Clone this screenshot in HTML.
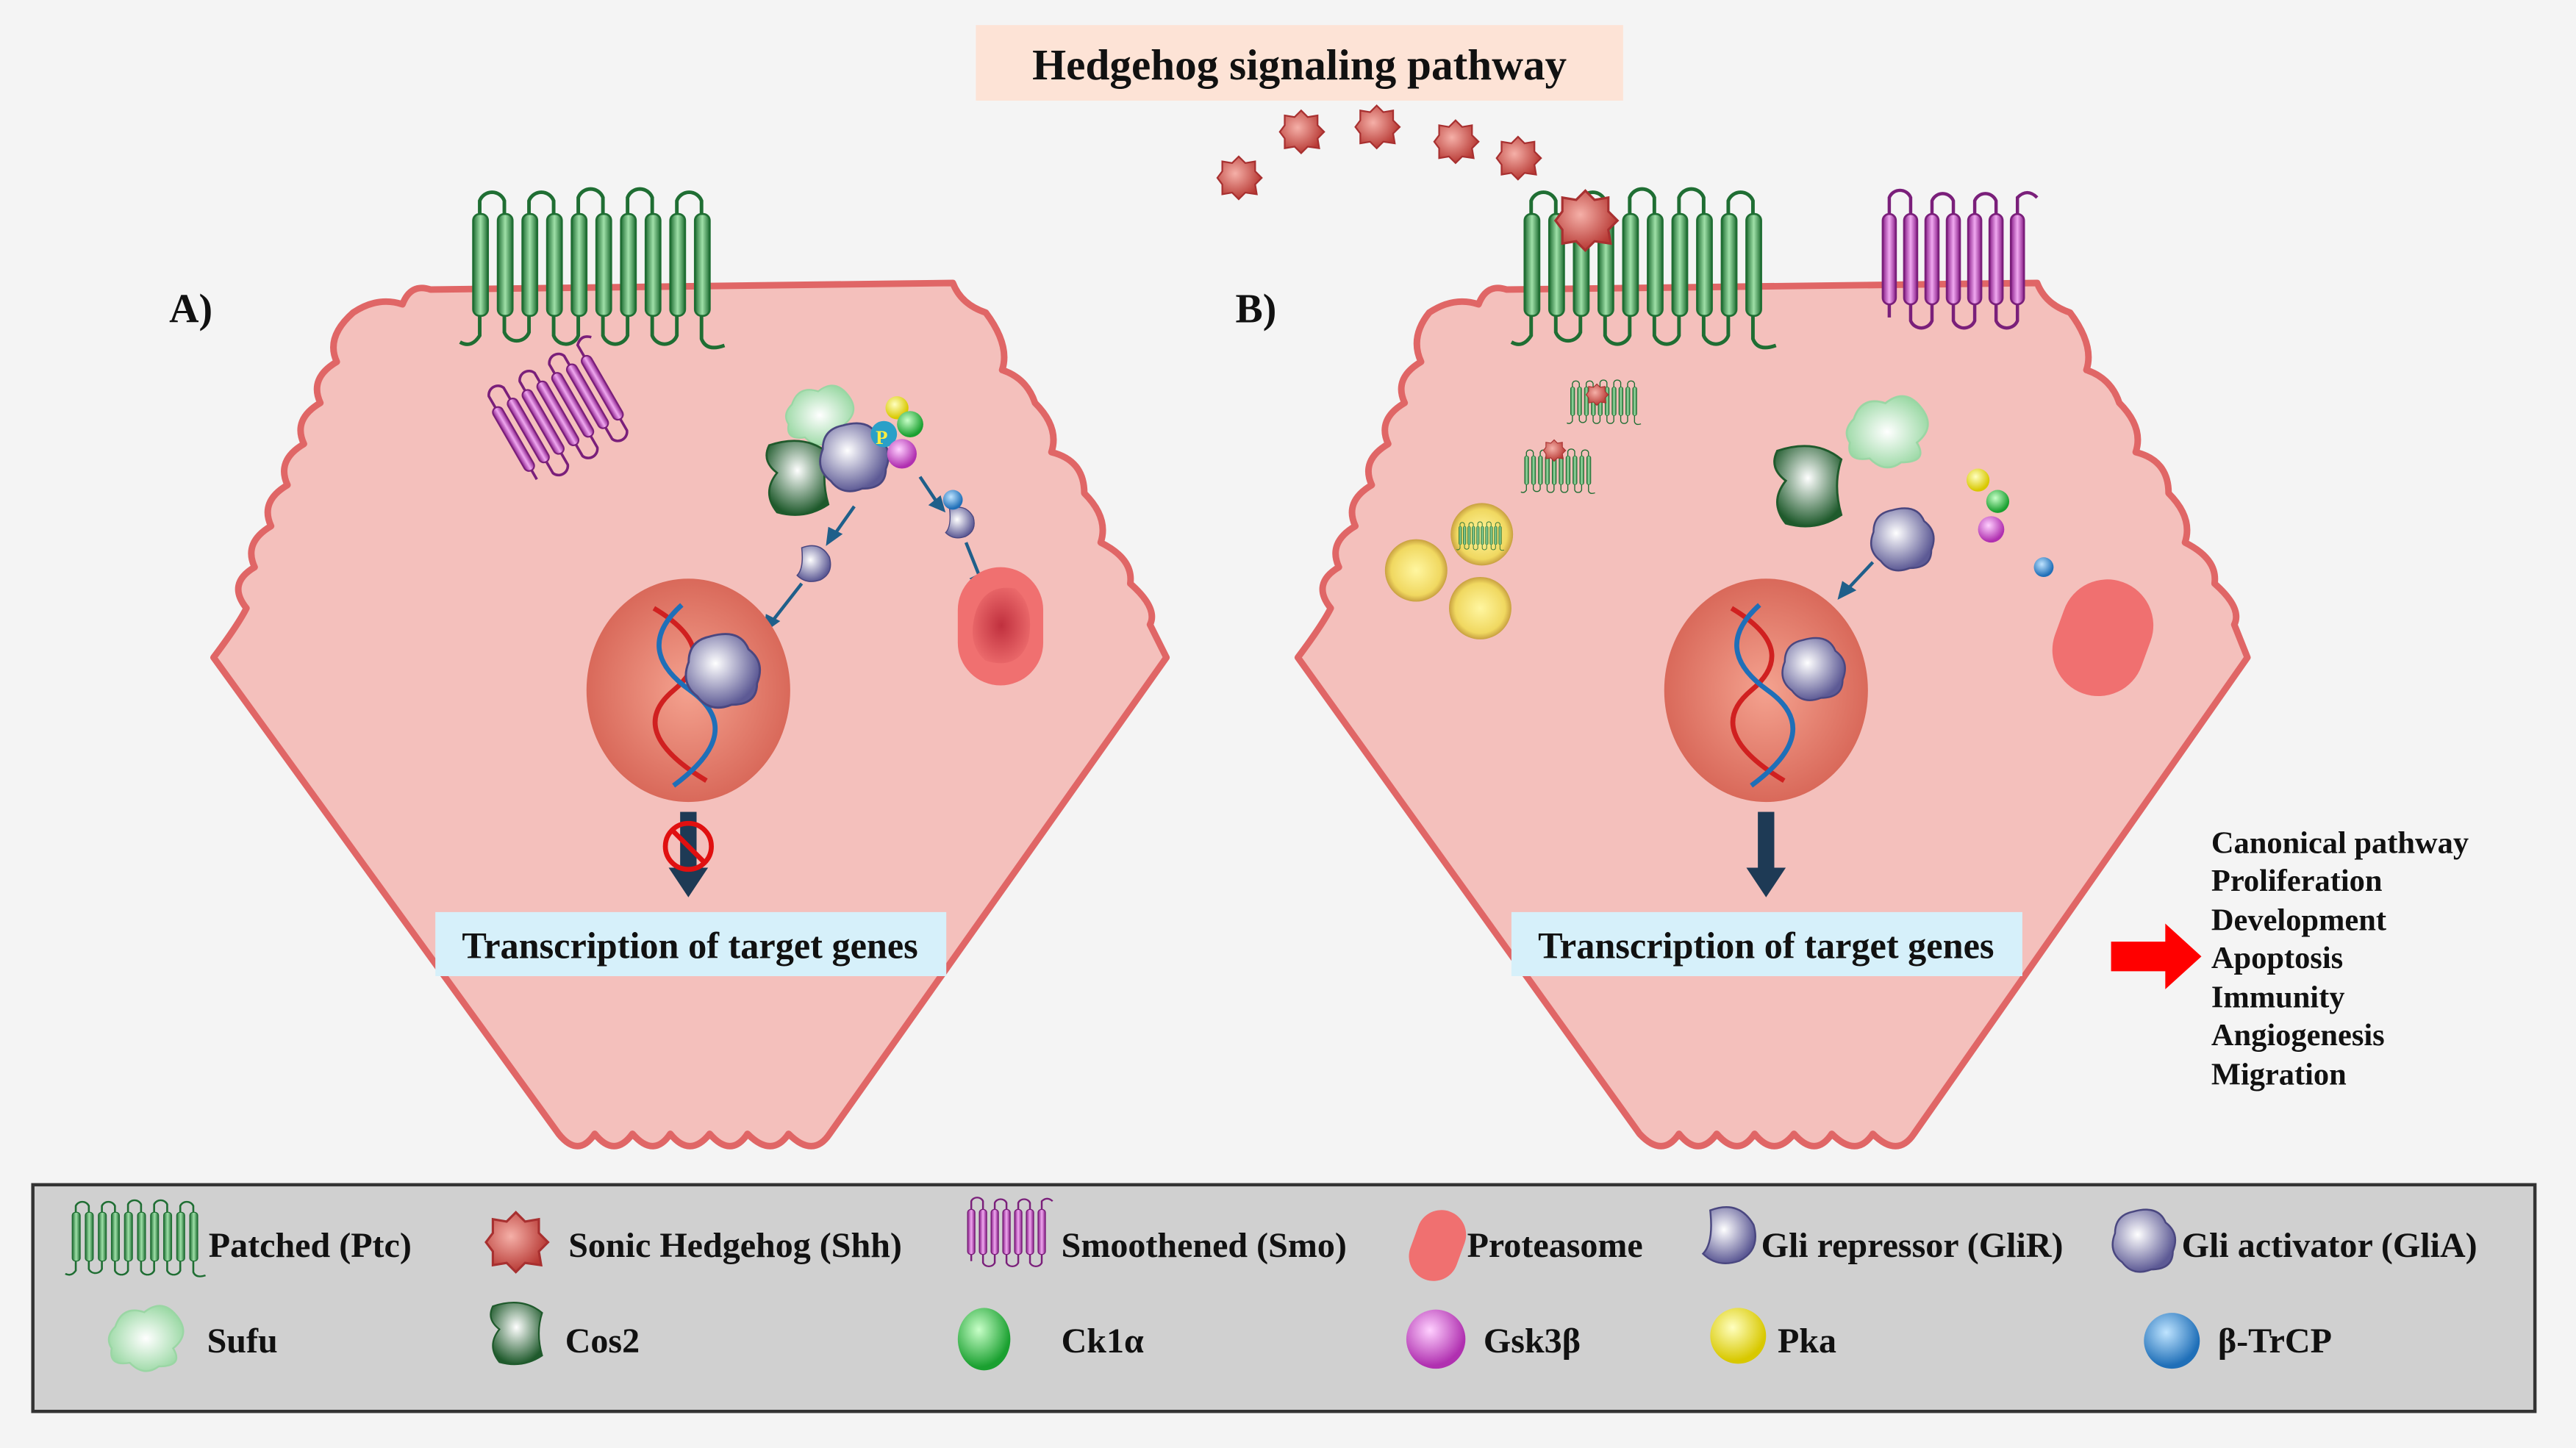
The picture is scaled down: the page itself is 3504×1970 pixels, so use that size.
<!DOCTYPE html>
<html><head><meta charset="utf-8">
<style>
html,body{margin:0;padding:0;background:#f4f4f4;}
svg{display:block;}
text{font-family:"Liberation Serif",serif;font-weight:bold;fill:#111;}
</style></head>
<body>
<svg width="3504" height="1970" viewBox="0 0 1568 881" xmlns="http://www.w3.org/2000/svg">
<defs>
<linearGradient id="gr" x1="0" x2="1"><stop offset="0" stop-color="#1f6e33"/><stop offset="0.5" stop-color="#9fe0a8"/><stop offset="1" stop-color="#1f6e33"/></linearGradient>
<linearGradient id="pu" x1="0" x2="1"><stop offset="0" stop-color="#8a1f8a"/><stop offset="0.5" stop-color="#f0a8f0"/><stop offset="1" stop-color="#8a1f8a"/></linearGradient>
<radialGradient id="nuc" cx="0.5" cy="0.5" r="0.5"><stop offset="0" stop-color="#f4a28f"/><stop offset="1" stop-color="#d9695a"/></radialGradient>
<radialGradient id="shh" cx="0.4" cy="0.4" r="0.6"><stop offset="0" stop-color="#f5b0a8"/><stop offset="1" stop-color="#b83a35"/></radialGradient>
<radialGradient id="gli" cx="0.4" cy="0.4" r="0.6"><stop offset="0" stop-color="#ffffff"/><stop offset="1" stop-color="#5d5a95"/></radialGradient>
<radialGradient id="cos" cx="0.5" cy="0.4" r="0.6"><stop offset="0" stop-color="#ffffff"/><stop offset="1" stop-color="#1f5a2c"/></radialGradient>
<radialGradient id="sufu" cx="0.5" cy="0.5" r="0.6"><stop offset="0" stop-color="#ffffff"/><stop offset="1" stop-color="#8fd49a"/></radialGradient>
<radialGradient id="ck" cx="0.4" cy="0.35" r="0.6"><stop offset="0" stop-color="#c8ffc8"/><stop offset="1" stop-color="#1aa030"/></radialGradient>
<radialGradient id="gsk" cx="0.4" cy="0.35" r="0.6"><stop offset="0" stop-color="#ffd0ff"/><stop offset="1" stop-color="#b030b0"/></radialGradient>
<radialGradient id="pka" cx="0.4" cy="0.35" r="0.6"><stop offset="0" stop-color="#ffffc0"/><stop offset="1" stop-color="#d8c800"/></radialGradient>
<radialGradient id="trc" cx="0.4" cy="0.35" r="0.6"><stop offset="0" stop-color="#bfe4ff"/><stop offset="1" stop-color="#1f6fb8"/></radialGradient>
<radialGradient id="ves" cx="0.5" cy="0.5" r="0.5"><stop offset="0" stop-color="#fff6a0"/><stop offset="0.8" stop-color="#f0d860"/><stop offset="1" stop-color="#c8a040"/></radialGradient>
<radialGradient id="prot" cx="0.5" cy="0.5" r="0.6"><stop offset="0" stop-color="#c0303e"/><stop offset="1" stop-color="#f07070"/></radialGradient>
<g id="ptc">
  <g fill="url(#gr)" stroke="#1f6e33" stroke-width="1.2">
    <rect x="0" y="12" width="9" height="62" rx="4"/><rect x="15" y="12" width="9" height="62" rx="4"/>
    <rect x="30" y="12" width="9" height="62" rx="4"/><rect x="45" y="12" width="9" height="62" rx="4"/>
    <rect x="60" y="12" width="9" height="62" rx="4"/><rect x="75" y="12" width="9" height="62" rx="4"/>
    <rect x="90" y="12" width="9" height="62" rx="4"/><rect x="105" y="12" width="9" height="62" rx="4"/>
    <rect x="120" y="12" width="9" height="62" rx="4"/><rect x="135" y="12" width="9" height="62" rx="4"/>
  </g>
  <g fill="none" stroke="#1f6e33" stroke-width="2.2">
    <path d="M4 12 V4 a8 8 0 0 1 15 0 V12"/><path d="M34 12 V4 a8 8 0 0 1 15 0 V12"/>
    <path d="M64 12 V2 a8 8 0 0 1 15 0 V12"/><path d="M94 12 V2 a8 8 0 0 1 15 0 V12"/>
    <path d="M124 12 V4 a8 8 0 0 1 15 0 V12"/>
    <path d="M19 74 v10 a8 8 0 0 0 15 0 v-10"/><path d="M49 74 v12 a8 8 0 0 0 15 0 v-12"/>
    <path d="M79 74 v12 a8 8 0 0 0 15 0 v-12"/><path d="M109 74 v12 a8 8 0 0 0 15 0 v-12"/>
    <path d="M4 74 v12 q-5 8 -12 4"/><path d="M139 74 v14 q3 8 14 4"/>
  </g>
</g>
<g id="smo">
  <g fill="url(#pu)" stroke="#7a1f7a" stroke-width="1.2">
    <rect x="0" y="12" width="8" height="55" rx="4"/><rect x="13" y="12" width="8" height="55" rx="4"/>
    <rect x="26" y="12" width="8" height="55" rx="4"/><rect x="39" y="12" width="8" height="55" rx="4"/>
    <rect x="52" y="12" width="8" height="55" rx="4"/><rect x="65" y="12" width="8" height="55" rx="4"/>
    <rect x="78" y="12" width="8" height="55" rx="4"/>
  </g>
  <g fill="none" stroke="#7a1f7a" stroke-width="2">
    <path d="M4 12 V2 a7 7 0 0 1 13 0 V12"/><path d="M30 12 V4 a7 7 0 0 1 13 0 V12"/>
    <path d="M56 12 V4 a7 7 0 0 1 13 0 V12"/><path d="M82 12 V2 q6 -6 12 0"/>
    <path d="M17 67 v10 a7 7 0 0 0 13 0 v-10"/><path d="M43 67 v10 a7 7 0 0 0 13 0 v-10"/>
    <path d="M69 67 v10 a7 7 0 0 0 13 0 v-10"/><path d="M4 67 v8"/>
  </g>
</g>
<path id="shhp" d="M0 -13 L4 -9 L10 -10 L10 -4 L14 0 L10 4 L11 10 L4 9 L0 13 L-4 9 L-10 10 L-10 4 L-13 0 L-10 -4 L-10 -10 L-4 -9 Z" fill="url(#shh)" stroke="#a83030" stroke-width="1"/>
<path id="glir" d="M-10 -14 Q6 -20 14 -6 Q18 8 6 14 Q-6 18 -14 10 Q-8 4 -10 -14 Z" fill="url(#gli)" stroke="#4a4780" stroke-width="1"/>
<path id="glia" d="M-6 -16 Q8 -20 12 -10 Q20 -4 16 6 Q16 16 4 16 Q-6 20 -12 12 Q-20 6 -16 -4 Q-16 -14 -6 -16 Z" fill="url(#gli)" stroke="#4a4780" stroke-width="1"/>
<path id="cos2" d="M-14 -16 Q4 -22 16 -12 Q12 0 16 14 Q4 22 -10 18 Q-18 8 -10 -2 Q-18 -8 -14 -16 Z" fill="url(#cos)" stroke="#1f5a2c" stroke-width="1"/>
<path id="sufup" d="M-18 -6 Q-14 -18 -2 -14 Q8 -22 16 -12 Q24 -2 14 6 Q20 16 6 16 Q-2 22 -10 14 Q-22 16 -20 6 Q-24 0 -18 -6 Z" fill="url(#sufu)" stroke="#9ad6a4" stroke-width="1"/>
</defs>

<rect width="1568" height="881" fill="#f4f4f4"/>

<rect x="594" y="15" width="394" height="46" fill="#fde3d6"/>
<text x="791" y="48" font-size="26.5" text-anchor="middle">Hedgehog signaling pathway</text>

<path d="M215 190 Q230 180 245 185 Q250 172 262 176 L580 172 Q585 185 600 190 Q615 210 610 225 Q625 230 630 245 Q645 260 640 275 Q660 280 660 300 Q675 315 670 330 Q690 340 688 355 Q705 370 700 380 L710 400 L505 690 Q495 705 480 690 Q470 705 455 690 Q445 705 432 690 Q420 705 408 690 Q398 705 385 690 Q374 705 362 690 Q352 705 340 690 L130 400 Q145 380 150 370 Q138 355 155 345 Q148 330 165 320 Q158 305 175 295 Q168 280 185 270 Q178 255 195 245 Q188 230 205 220 Q198 205 215 190 Z" fill="#f4c0bc" stroke="#e06666" stroke-width="4" stroke-linejoin="round"/>
<path d="M870 190 Q885 180 900 185 Q905 172 917 176 L1240 172 Q1245 185 1260 190 Q1275 210 1270 225 Q1285 230 1290 245 Q1305 260 1300 275 Q1320 280 1320 300 Q1335 315 1330 330 Q1350 340 1348 355 Q1365 370 1360 380 L1368 400 L1165 690 Q1155 705 1140 690 Q1130 705 1115 690 Q1105 705 1092 690 Q1080 705 1068 690 Q1058 705 1045 690 Q1034 705 1022 690 Q1012 705 998 690 L790 400 Q805 380 810 370 Q798 355 815 345 Q808 330 825 320 Q818 305 835 295 Q828 280 845 270 Q838 255 855 245 Q848 230 865 220 Q858 205 870 190 Z" fill="#f4c0bc" stroke="#e06666" stroke-width="4" stroke-linejoin="round"/>

<text x="103" y="196" font-size="25">A)</text>
<text x="752" y="196" font-size="25">B)</text>

<use href="#ptc" x="288" y="118"/>
<use href="#smo" transform="translate(306,262) rotate(-30) scale(0.8) translate(0,-30)"/>
<use href="#ptc" x="928" y="118"/>
<use href="#smo" x="1146" y="118"/>
<use href="#ptc" transform="translate(956,232) scale(0.28)"/>
<use href="#ptc" transform="translate(928,274) scale(0.28)"/>
<use href="#shhp" transform="translate(972,240) scale(0.5)"/>
<use href="#shhp" transform="translate(946,274) scale(0.5)"/>
<circle cx="862" cy="347" r="19" fill="url(#ves)"/>
<circle cx="902" cy="325" r="19" fill="url(#ves)"/>
<circle cx="901" cy="370" r="19" fill="url(#ves)"/>
<use href="#ptc" transform="translate(888,318) scale(0.18)"/>

<use href="#shhp" x="754" y="108"/>
<use href="#shhp" x="792" y="80"/>
<use href="#shhp" x="838" y="77"/>
<use href="#shhp" x="886" y="86"/>
<use href="#shhp" x="924" y="96"/>
<use href="#shhp" transform="translate(965,134) scale(1.4)"/>

<use href="#sufup" x="500" y="252"/>
<use href="#cos2" transform="translate(485,290) scale(1.2)"/>
<use href="#glia" transform="translate(520,278) scale(1.2)"/>
<circle cx="546" cy="248" r="7" fill="url(#pka)"/>
<circle cx="538" cy="264" r="8" fill="#2aa0c8"/>
<text x="533" y="270" font-size="12" style="fill:#ffee40">P</text>
<circle cx="554" cy="258" r="8" fill="url(#ck)"/>
<circle cx="549" cy="276" r="9" fill="url(#gsk)"/>
<g stroke="#1f5f8a" stroke-width="2" fill="#1f5f8a">
<line x1="520" y1="308" x2="508" y2="325"/><path d="M504 330 l1 -8 l6 3 Z"/>
<line x1="488" y1="355" x2="470" y2="378"/><path d="M466 383 l1 -8 l6 3 Z"/>
<line x1="560" y1="290" x2="570" y2="305"/><path d="M574 310 l-7 -3 l5 -4 Z"/>
<line x1="588" y1="330" x2="596" y2="350"/><path d="M598 356 l-6 -4 l6 -3 Z"/>
</g>
<use href="#glir" transform="translate(495,343) scale(0.7)"/>
<use href="#glir" transform="translate(584,318) scale(0.6)"/>
<circle cx="580" cy="304" r="6" fill="url(#trc)"/>
<rect x="583" y="345" width="52" height="72" rx="26" fill="#f07070"/>
<path d="M594 372 Q600 355 618 358 Q630 368 626 390 Q620 408 600 402 Q588 392 594 372 Z" fill="url(#prot)"/>

<ellipse cx="419" cy="420" rx="62" ry="68" fill="url(#nuc)"/>
<path d="M398 370 Q440 395 410 420 Q380 445 430 475" fill="none" stroke="#d02020" stroke-width="3"/>
<path d="M415 368 Q385 395 420 420 Q455 445 410 478" fill="none" stroke="#1f6fb8" stroke-width="3"/>
<use href="#glia" transform="translate(440,408) scale(1.3)"/>

<use href="#sufup" transform="translate(1150,262) scale(1.2)"/>
<use href="#cos2" transform="translate(1100,295) scale(1.3)"/>
<use href="#glia" transform="translate(1158,328) scale(1.1)"/>
<circle cx="1204" cy="292" r="7" fill="url(#pka)"/>
<circle cx="1216" cy="305" r="7" fill="url(#ck)"/>
<circle cx="1212" cy="322" r="8" fill="url(#gsk)"/>
<circle cx="1244" cy="345" r="6" fill="url(#trc)"/>
<rect x="1252" y="352" width="56" height="72" rx="28" transform="rotate(20 1280 388)" fill="#f07070"/>
<g stroke="#1f5f8a" stroke-width="2" fill="#1f5f8a">
<line x1="1140" y1="342" x2="1125" y2="358"/><path d="M1120 363 l2 -8 l6 4 Z"/>
</g>
<ellipse cx="1075" cy="420" rx="62" ry="68" fill="url(#nuc)"/>
<path d="M1054 370 Q1096 395 1066 420 Q1036 445 1086 475" fill="none" stroke="#d02020" stroke-width="3"/>
<path d="M1071 368 Q1041 395 1076 420 Q1111 445 1066 478" fill="none" stroke="#1f6fb8" stroke-width="3"/>
<use href="#glia" transform="translate(1104,407) scale(1.1)"/>

<rect x="414" y="494" width="10" height="36" fill="#1e3a55"/>
<path d="M407 528 L431 528 L419 546 Z" fill="#1e3a55"/>
<circle cx="419" cy="515" r="14" fill="none" stroke="#e01010" stroke-width="3"/>
<line x1="409" y1="505" x2="429" y2="525" stroke="#e01010" stroke-width="3"/>
<rect x="1070" y="494" width="10" height="36" fill="#1e3a55"/>
<path d="M1063 528 L1087 528 L1075 546 Z" fill="#1e3a55"/>

<rect x="265" y="555" width="311" height="39" fill="#d6f0fa"/>
<text x="420" y="583" font-size="22.5" text-anchor="middle">Transcription of target genes</text>
<rect x="920" y="555" width="311" height="39" fill="#d6f0fa"/>
<text x="1075" y="583" font-size="22.5" text-anchor="middle">Transcription of target genes</text>

<path d="M1285 573 H1318 V562 L1340 582 L1318 602 V591 H1285 Z" fill="#ff0000"/>
<g font-size="19">
<text x="1346" y="519">Canonical pathway</text>
<text x="1346" y="542">Proliferation</text>
<text x="1346" y="566">Development</text>
<text x="1346" y="589">Apoptosis</text>
<text x="1346" y="613">Immunity</text>
<text x="1346" y="636">Angiogenesis</text>
<text x="1346" y="660">Migration</text>
</g>

<rect x="20" y="721" width="1523" height="138" fill="#d0d0d0" stroke="#333" stroke-width="2"/>
<use href="#ptc" transform="translate(44,732) scale(0.53,0.48)"/>
<use href="#shhp" transform="translate(314,756) scale(1.4)"/>
<use href="#smo" transform="translate(589,730) scale(0.55,0.5)"/>
<rect x="860" y="736" width="30" height="44" rx="15" transform="rotate(20 875 758)" fill="#f07070"/>
<use href="#glir" transform="translate(1052,752) scale(1.1)"/>
<use href="#glia" transform="translate(1305,755) scale(1.1)"/>
<use href="#sufup" transform="translate(90,814) scale(1.1)"/>
<use href="#cos2" transform="translate(314,811) scale(1.0)"/>
<ellipse cx="599" cy="815" rx="16" ry="19" fill="url(#ck)"/>
<circle cx="874" cy="815" r="18" fill="url(#gsk)"/>
<circle cx="1058" cy="813" r="17" fill="url(#pka)"/>
<circle cx="1322" cy="816" r="17" fill="url(#trc)"/>
<g font-size="21.5">
<text x="127" y="765">Patched (Ptc)</text>
<text x="346" y="765">Sonic Hedgehog (Shh)</text>
<text x="646" y="765">Smoothened (Smo)</text>
<text x="893" y="765">Proteasome</text>
<text x="1072" y="765">Gli repressor (GliR)</text>
<text x="1328" y="765">Gli activator (GliA)</text>
<text x="126" y="823">Sufu</text>
<text x="344" y="823">Cos2</text>
<text x="646" y="823">Ck1α</text>
<text x="903" y="823">Gsk3β</text>
<text x="1082" y="823">Pka</text>
<text x="1350" y="823">β-TrCP</text>
</g>
</svg>
</body></html>
